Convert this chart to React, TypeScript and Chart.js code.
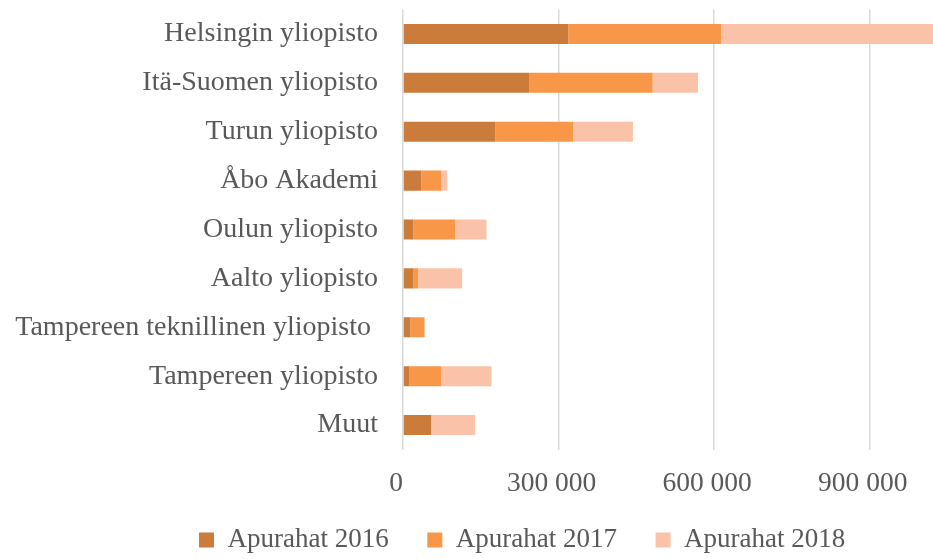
import React, { useEffect, useRef } from "react";
import { Chart, registerables } from "chart.js";

Chart.register(...registerables);

const categories = [
  "Helsingin yliopisto",
  "Itä-Suomen yliopisto",
  "Turun yliopisto",
  "Åbo Akademi",
  "Oulun yliopisto",
  "Aalto yliopisto",
  "Tampereen teknillinen yliopisto ",
  "Tampereen yliopisto",
  "Muut",
];

const seriesLabels = ["Apurahat 2016", "Apurahat 2017", "Apurahat 2018"];

const values2016 = [318500, 243100, 177600, 35400, 20200, 20200, 14500, 12600, 54400];
const values2017 = [295000, 238300, 150200, 38100, 80400, 9100, 27000, 61100, 0];
const values2018 = [410000, 87400, 115500, 11900, 60400, 84800, 0, 97000, 84800];

const xTicks = [0, 300000, 600000, 900000];
const xMax = 1022000;

const colors = ["#CC7C3A", "#F79747", "#FAC3A9"];

const fmt = (v: number) => String(Math.round(v)).replace(/\B(?=(\d{3})+(?!\d))/g, " ");

const legendPlacer = {
  id: "legendPlacer",
  afterLayout(chart: any) {
    const lg = chart.legend;
    if (!lg) return;
    const pad = lg.options.labels.padding;
    lg.left = 199 - pad;
    lg.right = chart.width;
    lg.width = lg.right - lg.left;
    lg.top = 540 - pad - 13.5;
    lg.bottom = chart.height;
    lg.height = lg.bottom - lg.top;
  },
};

export default function App() {
  const ref = useRef<HTMLCanvasElement | null>(null);

  useEffect(() => {
    document.body.style.margin = "0";
    document.body.style.overflow = "hidden";
    const canvas = ref.current;
    if (!canvas) return;
    const textColor = "#595959";
    const family = "'Liberation Serif', 'Times New Roman', serif";
    const chart = new Chart(canvas, {
      type: "bar",
      plugins: [legendPlacer],
      data: {
        labels: categories,
        datasets: [values2016, values2017, values2018].map((d, i) => ({
          label: seriesLabels[i],
          data: d,
          backgroundColor: colors[i],
          borderWidth: 0,
          barPercentage: 0.41,
          categoryPercentage: 1,
        })),
      },
      options: {
        indexAxis: "y",
        animation: false,
        responsive: false,
        maintainAspectRatio: false,
        layout: { padding: { left: 0, top: 9.5, right: 0, bottom: 0 } },
        scales: {
          x: {
            stacked: true,
            min: 0,
            max: xMax,
            afterBuildTicks: (scale: any) => {
              scale.ticks = xTicks.map((v) => ({ value: v }));
            },
            afterFit: (scale: any) => {
              scale.height = 69.5;
            },
            grid: { color: "#D9D9D9", lineWidth: 1.5, drawTicks: false },
            border: { display: false },
            ticks: {
              color: textColor,
              font: { family, size: 27.5 },
              padding: 18,
              labelOffset: -7,
              maxRotation: 0,
              callback: (v: any) => fmt(Number(v)),
            },
          },
          y: {
            stacked: true,
            afterFit: (scale: any) => {
              scale.width = 403;
              scale.paddingTop = 0;
              scale.paddingBottom = 0;
            },
            grid: { display: false, drawTicks: false },
            border: { display: false },
            ticks: {
              color: textColor,
              font: { family, size: 28 },
              padding: 25,
            },
          },
        },
        plugins: {
          tooltip: { enabled: false },
          legend: {
            position: "bottom",
            align: "start",
            maxHeight: 40,
            labels: {
              boxWidth: 15,
              boxHeight: 15,
              padding: 38.6,
              color: textColor,
              font: { family, size: 27 },
            },
          },
        },
      },
    });
    return () => chart.destroy();
  }, []);

  return (
    <div style={{ width: 933, height: 559 }}>
      <canvas ref={ref} width={933} height={559} style={{ display: "block" }} />
    </div>
  );
}
